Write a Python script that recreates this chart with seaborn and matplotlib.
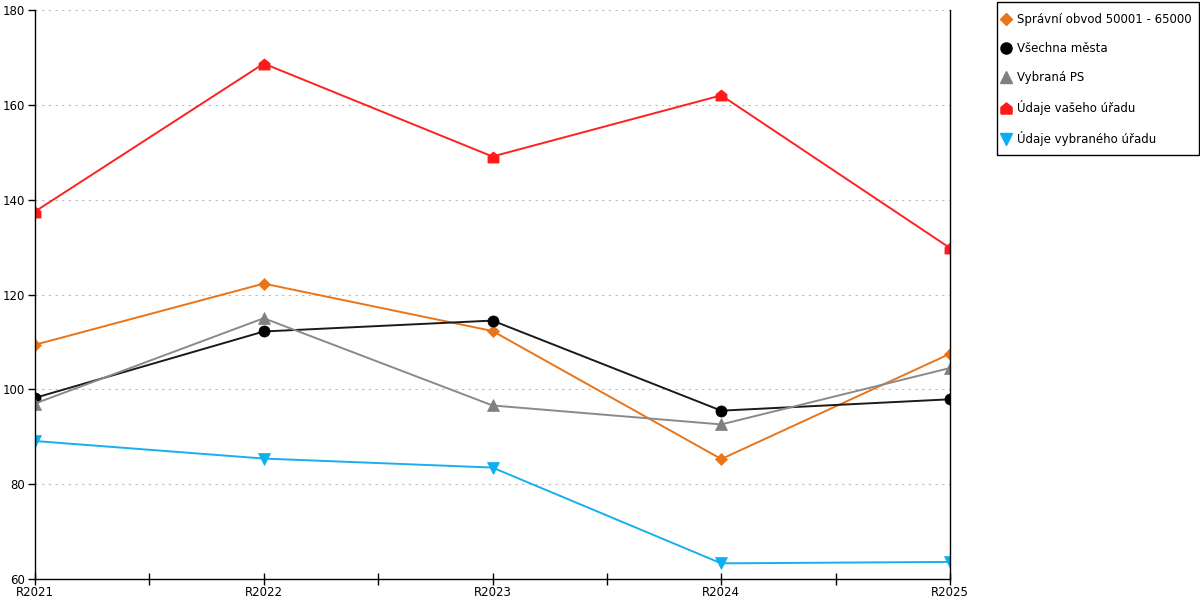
import pandas as pd
import numpy as np
import seaborn as sns
import matplotlib
import matplotlib.pyplot as plt
from matplotlib.lines import Line2D
from matplotlib.patches import Rectangle
matplotlib.use("Agg")

#%% data
years = ["R2021", "R2022", "R2023", "R2024", "R2025"]
series_names = ["Správní obvod 50001 - 65000", "Všechna města", "Vybraná PS",
                "Údaje vašeho úřadu", "Údaje vybraného úřadu"]
spravni_obvod = [109.4, 122.3, 112.3, 85.3, 107.5]
vsechna_mesta = [98.2, 112.2, 114.5, 95.5, 97.9]
vybrana_ps = [97.0, 115.0, 96.6, 92.6, 104.5]
vas_urad = [137.5, 168.7, 149.1, 162.0, 129.8]
vybrany_urad = [89.1, 85.4, 83.5, 63.3, 63.6]

colors = ["#E8751A", "#000000", "#808080", "#FF1A1A", "#0AAFEF"]
line_colors = ["#E8751A", "#1a1a1a", "#8a8a8a", "#FF2020", "#18B0EC"]
house = [(-1, -1), (1, -1), (1, 0.2), (0, 1), (-1, 0.2), (-1, -1)]
markers = ["D", "o", "^", house, "v"]
msizes = [6, 8, 8.5, 8, 8.5]

df = pd.DataFrame(dict(
    year=years * 5,
    value=spravni_obvod + vsechna_mesta + vybrana_ps + vas_urad + vybrany_urad,
    series=[s for s in series_names for _ in years],
))

#%% plot
sns.set_style("white")
plt.rcParams["font.family"] = ["DejaVu Sans"]
plt.rcParams["font.size"] = 8.5
plt.rcParams["text.color"] = "black"
plt.rcParams["xtick.color"] = "black"
plt.rcParams["ytick.color"] = "black"

fig = plt.figure(figsize=(12, 6), dpi=100)
ax = fig.add_axes([35/1200, 21/600, 915/1200, 569/600])

for name, c, lc, m, ms in zip(series_names, colors, line_colors, markers, msizes):
    sub = df.loc[df.series == name]
    sns.lineplot(
        data=sub, x="year", y="value",
        color=lc, marker=m, markersize=ms,
        markerfacecolor=c, markeredgecolor=c, markeredgewidth=0.5,
        linewidth=1.4, ax=ax, legend=False, sort=False,
    )

ax.set_xlim(0, 4)
ax.set_ylim(60, 180)
ax.set_yticks(np.arange(60, 181, 20))
ax.set_xticks(np.arange(0, 5))
ax.set_xticks(np.arange(0.5, 4, 1), minor=True)
ax.set_xlabel("")
ax.set_ylabel("")
ax.grid(axis="y", linestyle=(0, (2, 4)), color="#bbbbbb", linewidth=0.8)
ax.set_axisbelow(True)

for s in ["left", "bottom", "right"]:
    ax.spines[s].set_visible(True)
    ax.spines[s].set_color("black")
    ax.spines[s].set_linewidth(1)
ax.spines["top"].set_visible(False)

ax.tick_params(axis="x", which="both", direction="inout", length=8, width=1,
               color="black", labelcolor="black", pad=1, bottom=True)
ax.tick_params(axis="y", direction="out", length=5, width=1, color="black",
               labelcolor="black", pad=2, left=True)

# legend: entries without frame, frame drawn as a separate box
handles = [Line2D([], [], linestyle="none", marker=m, color=c, markeredgecolor=c,
                  markersize=ms)
           for c, m, ms in zip(colors, markers, msizes)]
leg = fig.legend(
    handles, series_names,
    loc="upper left", bbox_to_anchor=(1002.5/1200, 1 - 13/600),
    frameon=False, handlelength=0.6, handletextpad=0.6, labelspacing=1.36,
    borderpad=0, borderaxespad=0, fontsize=8.5, labelcolor="black",
)
fig.patches.append(Rectangle((997/1200, 1 - 155/600), 202/1200, 153/600,
                             transform=fig.transFigure, fill=False,
                             edgecolor="black", linewidth=1))

fig.savefig("out.png", dpi=100)
